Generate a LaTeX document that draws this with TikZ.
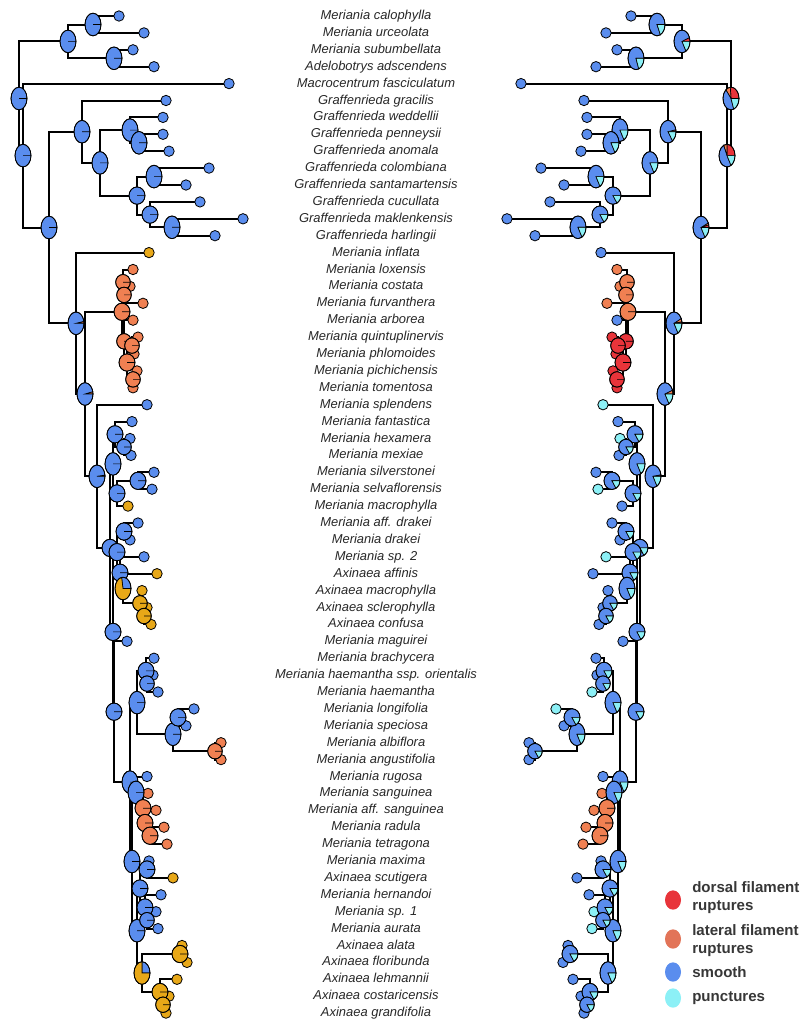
\documentclass[tikz,border=0pt]{standalone}
\usepackage{fontspec}
\setmainfont{Liberation Sans}
\usetikzlibrary{shapes.geometric}
\definecolor{pb}{RGB}{90,141,238}
\definecolor{pc}{RGB}{140,240,246}
\definecolor{pr}{RGB}{232,52,58}
\definecolor{po}{RGB}{240,128,82}
\definecolor{pg}{RGB}{232,168,24}
\definecolor{legOrange}{RGB}{226,116,88}
\definecolor{labGray}{RGB}{40,40,40}
\definecolor{legGray}{RGB}{55,55,55}

% pie marker: centre, x radius, y radius, slices colour/from/to
\newcommand{\piemark}[4]{%
  \foreach \pc/\pa/\pz in #4{
    \filldraw[fill=\pc,draw=black,line width=0.5pt] (#1) -- ++(\pa:#2 and #3)
      arc[start angle=\pa,end angle=\pz,x radius=#2,y radius=#3] -- cycle;}
  \draw[line width=0.6pt] (#1) ellipse[x radius=#2,y radius=#3];}

% internal nodes: name/x/y/rx/ry/left pie/right pie  (right tree is mirrored, x -> 750-x)
\def\treenodes{%
 R/19/98.5/6pt/8.5pt/{pb/0/360}/{pr/0/95,po/95/130,pb/130/290,pc/290/360},
 A/68/41.4/6pt/8.5pt/{pb/0/360}/{pr/0/20,pb/20/300,pc/300/360},
 B/93/24.5/6pt/8.5pt/{pb/0/360}/{pb/0/295,pc/295/360},
 C/114/58.3/6pt/8.5pt/{pb/0/360}/{pb/0/290,pc/290/360},
 E/23/155.6/6pt/8.5pt/{pb/0/360}/{pr/0/90,po/90/115,pb/115/300,pc/300/360},
 F/49/227.5/6pt/8.5pt/{pb/0/360}/{pr/0/14,po/14/24,pb/24/300,pc/300/360},
 H/82/131.7/6pt/8.5pt/{pb/0/360}/{pr/0/10,pb/10/305,pc/305/360},
 I/100/162.9/6pt/8.5pt/{pb/0/360}/{pb/0/300,pc/300/360},
 J/130/130.1/6pt/8.5pt/{pb/0/360}/{pb/0/300,pc/300/360},
 J2/139/142.8/6pt/8.5pt/{pb/0/360}/{pb/0/300,pc/300/360},
 K/137/195.6/6pt/6.5pt/{pb/0/360}/{pb/0/300,pc/300/360},
 L/154/176.6/6pt/8.5pt/{pb/0/360}/{pb/0/300,pc/300/360},
 M/150/214.6/6pt/6.5pt/{pb/0/360}/{pb/0/300,pc/300/360},
 N/172/227.3/6pt/8.5pt/{pb/0/360}/{pb/0/300,pc/300/360},
 G/76/323.3/6pt/8.5pt/{po/0/10,pb/10/360}/{pr/0/8,po/8/25,pb/25/300,pc/300/360},
 O/85/394/6pt/8.5pt/{po/0/12,pb/12/360}/{po/0/20,pb/20/300,pc/300/360},
 P/97/476.3/6pt/8.5pt/{po/0/6,pb/6/360}/{pr/0/8,pb/8/300,pc/300/360},
 Q/122/311.8/6pt/6.5pt/{po/0/360}/{po/0/360},
 Qa/123/282.2/5.5pt/5.8pt/{po/0/360}/{po/0/360},
 Qb/124/294.9/5.5pt/5.8pt/{po/0/360}/{po/0/360},
 Qc/124/341.3/5.5pt/5.8pt/{po/0/360}/{pr/0/360},
 Qd/127/362.5/6pt/6.5pt/{po/0/360}/{pr/0/360},
 Qe/132/345.6/5.5pt/5.8pt/{po/0/360}/{pr/0/360},
 Qf/133/379.4/5.5pt/5.8pt/{po/0/360}/{pr/0/360},
 R1/110/547.9/6pt/6.5pt/{pb/0/360}/{pb/0/300,pc/300/360},
 S/113/463.9/6pt/8.5pt/{pb/0/360}/{pb/0/300,pc/300/360},
 S1/115/434.3/6pt/6.5pt/{pb/0/360}/{pb/0/300,pc/300/360},
 S1a/124/447/5.5pt/5.8pt/{pb/0/360}/{pb/0/300,pc/300/360},
 S2/117/493.4/6pt/6.5pt/{pb/0/360}/{pb/0/300,pc/300/360},
 S2a/138/480.8/6pt/6.5pt/{pb/0/360}/{pb/0/300,pc/300/360},
 T/113/631.9/6pt/6.5pt/{pb/0/360}/{pb/0/300,pc/300/360},
 U/117/552.1/6pt/6.5pt/{pb/0/360}/{pb/0/300,pc/300/360},
 U1/124/531.5/6pt/6.5pt/{pb/0/360}/{pb/0/300,pc/300/360},
 U2/120/572.7/6pt/6.5pt/{pb/0/360}/{pb/0/300,pc/300/360},
 U3/123/588.5/6pt/8.5pt/{pb/0/100,pg/100/360}/{pb/0/300,pc/300/360},
 U4/140/603.3/5.5pt/5.8pt/{pg/0/360}/{pb/0/300,pc/300/360},
 U5/144/616/5.5pt/5.8pt/{pg/0/360}/{pb/0/300,pc/300/360},
 V/114/711.7/6pt/6.5pt/{pb/0/360}/{pb/0/300,pc/300/360},
 W/130/782.1/6pt/8.5pt/{pb/0/360}/{pb/0/300,pc/300/360},
 X/137/702.6/6pt/8.5pt/{pb/0/360}/{pb/0/300,pc/300/360},
 X1/146/670.9/6pt/6.5pt/{pb/0/360}/{pb/0/300,pc/300/360},
 X1a/147/683.6/5.5pt/5.8pt/{pb/0/360}/{pb/0/300,pc/300/360},
 X2/173/734.3/6pt/8.5pt/{pb/0/360}/{pb/0/300,pc/300/360},
 X2a/178/717.4/6pt/6.5pt/{pb/0/360}/{pb/0/300,pc/300/360},
 X2b/215/751.2/5.5pt/5.8pt/{po/0/360}/{pb/0/300,pc/300/360},
 Y/132/861.5/6pt/8.5pt/{pb/0/360}/{pb/0/300,pc/300/360},
 Z/136/792.4/6pt/8.5pt/{pb/0/360}/{pb/0/300,pc/300/360},
 O1/143/808.2/6pt/6.5pt/{po/0/360}/{po/0/360},
 O2/145/823/6pt/6.5pt/{po/0/360}/{po/0/360},
 O3/150/835.7/6pt/6.5pt/{po/0/360}/{po/0/360},
 AA/137/930.7/6pt/8.5pt/{pb/0/360}/{pb/0/300,pc/300/360},
 AB/140/888.5/6pt/6.5pt/{pb/0/360}/{pb/0/300,pc/300/360},
 AB1/147/869.5/6pt/6.5pt/{pb/0/360}/{pb/0/300,pc/300/360},
 AB2/145/907.5/6pt/6.5pt/{pb/0/360}/{pb/0/300,pc/300/360},
 AB3/147/920.2/5.5pt/5.8pt/{pb/0/360}/{pb/0/300,pc/300/360},
 AC/142/973/6pt/8.5pt/{pb/0/90,pg/90/360}/{pb/0/300,pc/300/360},
 AD/180/954/6pt/6.5pt/{pg/0/360}/{pb/0/300,pc/300/360},
 AE/160/992/6pt/6.5pt/{pg/0/360}/{pb/0/300,pc/300/360},
 AF/163/1004.7/5.5pt/5.8pt/{pg/0/360}/{pb/0/300,pc/300/360}}

% tips: index/x/left colour/right colour
\def\treetips{%
 1/119/pb/pb,2/144/pb/pb,3/133/pb/pb,4/154/pb/pb,5/229/pb/pb,6/166/pb/pb,
 7/163/pb/pb,8/163/pb/pb,9/169/pb/pb,10/209/pb/pb,11/186/pb/pb,12/200/pb/pb,
 13/243/pb/pb,14/215/pb/pb,15/149/pg/pb,16/133/po/po,17/130/po/po,18/143/po/po,
 19/133/po/pb,20/138/po/pr,21/134/po/pr,22/137/po/pr,23/133/po/pr,24/147/pb/pc,
 25/132/pb/pb,26/130/pb/pc,27/131/pb/pb,28/154/pb/pb,29/152/pb/pc,30/128/pg/pb,
 31/138/pb/pb,32/130/pb/pb,33/144/pb/pc,34/157/pg/pb,35/142/pg/pb,36/147/pg/pb,
 37/151/pg/pb,38/127/pb/pb,39/154/pb/pb,40/153/pb/pb,41/158/pb/pc,42/194/pb/pc,
 43/186/pb/pb,44/221/po/pb,45/221/po/pb,46/147/pb/pb,47/148/po/po,48/156/po/po,
 49/164/po/po,50/167/po/po,51/149/pb/pb,52/173/pg/pb,53/161/pb/pb,54/156/pb/pc,
 55/158/pb/pc,56/182/pg/pb,57/187/pg/pb,58/177/pg/pb,59/169/pg/pb,60/166/pg/pb}

\def\treeedges{%
 R/A,R/E,A/B,A/C,B/t1,B/t2,C/t3,C/t4,E/t5,E/F,F/H,F/G,H/t6,H/I,I/J,I/K,
 J/t7,J/J2,J2/t8,J2/t9,K/L,K/M,L/t10,L/t11,M/t12,M/N,N/t13,N/t14,G/t15,G/O,
 O/Q,O/P,Q/Qa,Q/Qc,Qa/t16,Qa/Qb,Qb/t17,Qb/t18,Qc/t19,Qc/Qd,Qd/Qe,Qd/Qf,
 Qe/t20,Qe/t21,Qf/t22,Qf/t23,P/t24,P/R1,R1/S,R1/T,S/S1,S/S2,S1/t25,S1/S1a,
 S1a/t26,S1a/t27,S2/S2a,S2/t30,S2a/t28,S2a/t29,T/U,T/V,U/U1,U/U2,U1/t31,
 U1/t32,U2/t33,U2/U3,U3/t34,U3/U4,U4/t35,U4/U5,U5/t36,U5/t37,V/t38,V/W,
 W/X,W/Y,X/X1,X/X2,X1/t39,X1/X1a,X1a/t40,X1a/t41,X2/X2a,X2/X2b,X2a/t42,
 X2a/t43,X2b/t44,X2b/t45,Y/Z,Y/AA,Z/t46,Z/O1,O1/t47,O1/O2,O2/t48,O2/O3,
 O3/t49,O3/t50,AA/AB,AA/AC,AB/AB1,AB/AB2,AB1/t51,AB1/t52,AB2/t53,AB2/AB3,
 AB3/t54,AB3/t55,AC/AD,AC/AE,AD/t56,AD/t57,AE/t58,AE/AF,AF/t59,AF/t60}

\begin{document}
\begin{tikzpicture}[x=0.75pt,y=-0.75pt,
  branch/.style={line width=1.5pt,black},
  tipdot/.style={draw=black,line width=0.6pt},
  lab/.style={font=\fontsize{9.7}{11}\selectfont\itshape,text=labGray,inner sep=0pt,anchor=base},
  legdot/.style={ellipse,minimum width=12pt,minimum height=14.5pt,inner sep=0pt},
  legtext/.style={font=\fontsize{11.3}{13.5}\selectfont\bfseries,text=legGray,align=left,anchor=west,inner sep=0pt}]

\fill[white] (0,0) rectangle (804,1021);
\useasboundingbox (0,0) rectangle (804,1021);

% coordinates of both trees
\foreach \n/\x/\y/\rx/\ry/\sl/\sr in \treenodes{
  \coordinate (L\n) at (\x,\y);
  \coordinate (R\n) at ({750-\x},\y);}
\foreach \i/\x/\cl/\cr in \treetips{
  \coordinate (Lt\i) at (\x,{16+16.9*(\i-1)});
  \coordinate (Rt\i) at ({750-\x},{16+16.9*(\i-1)});}

% branches
\foreach \p/\c in \treeedges{
  \draw[branch] (L\p) |- (L\c);
  \draw[branch] (R\p) |- (R\c);}

% tips
\foreach \i/\x/\cl/\cr in \treetips{
  \filldraw[tipdot,fill=\cl] (Lt\i) circle[radius=3.9pt];
  \filldraw[tipdot,fill=\cr] (Rt\i) circle[radius=3.9pt];}

% ancestral state pies
\foreach \n/\x/\y/\rx/\ry/\sl/\sr in \treenodes{
  \piemark{L\n}{\rx}{\ry}{\sl}
  \piemark{R\n}{\rx}{\ry}{\sr}}

% species names
\foreach \sp [count=\i] in {Meriania calophylla,Meriania urceolata,Meriania subumbellata,
  Adelobotrys adscendens,Macrocentrum fasciculatum,Graffenrieda gracilis,
  Graffenrieda weddellii,Graffenrieda penneysii,Graffenrieda anomala,
  Graffenrieda colombiana,Graffenrieda santamartensis,Graffenrieda cucullata,
  Graffenrieda maklenkensis,Graffenrieda harlingii,Meriania inflata,Meriania loxensis,
  Meriania costata,Meriania furvanthera,Meriania arborea,Meriania quintuplinervis,
  Meriania phlomoides,Meriania pichichensis,Meriania tomentosa,Meriania splendens,
  Meriania fantastica,Meriania hexamera,Meriania mexiae,Meriania silverstonei,
  Meriania selvaflorensis,Meriania macrophylla,Meriania aff. drakei,Meriania drakei,
  Meriania sp. 2,Axinaea affinis,Axinaea macrophylla,Axinaea sclerophylla,
  Axinaea confusa,Meriania maguirei,Meriania brachycera,
  Meriania haemantha ssp. orientalis,Meriania haemantha,Meriania longifolia,
  Meriania speciosa,Meriania albiflora,Meriania angustifolia,Meriania rugosa,
  Meriania sanguinea,Meriania aff. sanguinea,Meriania radula,Meriania tetragona,
  Meriania maxima,Axinaea scutigera,Meriania hernandoi,Meriania sp. 1,
  Meriania aurata,Axinaea alata,Axinaea floribunda,Axinaea lehmannii,
  Axinaea costaricensis,Axinaea grandifolia}{
  \node[lab] (sp\i) at (376,{19.5+16.9*(\i-1)}) {\sp};}

% legend
\node[legdot,fill=pr] (kDorsal) at (673,900) {};
\node[legtext] (tDorsal) at (692,898) {dorsal filament\\ruptures};
\node[legdot,fill=legOrange] (kLateral) at (673,939) {};
\node[legtext] (tLateral) at (692,941) {lateral filament\\ruptures};
\node[legdot,fill=pb] (kSmooth) at (673,972) {};
\node[legtext] (tSmooth) at (692,972) {smooth};
\node[legdot,fill=pc] (kPunct) at (673,998) {};
\node[legtext] (tPunct) at (692,998) {punctures};
\end{tikzpicture}
\end{document}
